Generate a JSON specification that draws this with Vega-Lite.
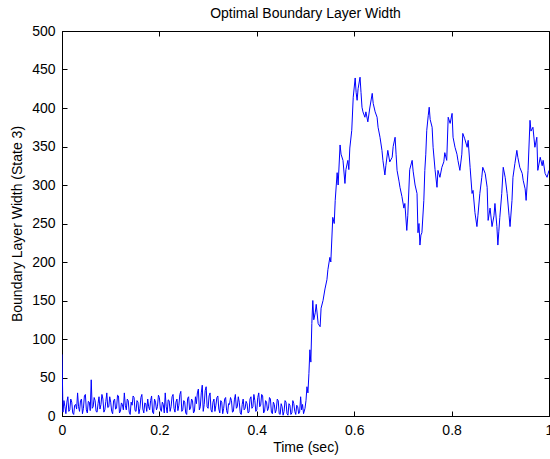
{
  "$schema": "https://vega.github.io/schema/vega-lite/v6.json",
  "width": 487,
  "height": 385,
  "autosize": {"type": "none"},
  "padding": {"left": 62, "top": 31, "right": 1, "bottom": 43},
  "background": "white",
  "title": {"text": "Optimal Boundary Layer Width", "font": "Liberation Sans", "fontSize": 14, "fontWeight": "normal", "color": "black", "offset": 3},
  "config": {
    "view": {"stroke": "black", "strokeWidth": 1},
    "axis": {"grid": false, "domainColor": "black", "tickColor": "black", "labelColor": "black", "labelFont": "Liberation Sans", "labelFontSize": 14, "labelFlush": false, "titleFont": "Liberation Sans", "titleFontSize": 14, "titleFontWeight": "normal", "titleColor": "black"}
  },
  "data": {"values": [
    {"t":0,"w":80},{"t":0.002,"w":5},{"t":0.004,"w":20},{"t":0.006,"w":12},{"t":0.008,"w":3},{"t":0.01,"w":18},{"t":0.012,"w":25},{"t":0.014,"w":6},{"t":0.016,"w":8},{"t":0.018,"w":22},
    {"t":0.02,"w":18},{"t":0.022,"w":4},{"t":0.024,"w":2},{"t":0.026,"w":14},{"t":0.028,"w":15},{"t":0.03,"w":9},{"t":0.032,"w":30},{"t":0.034,"w":12},{"t":0.036,"w":6},{"t":0.038,"w":20},
    {"t":0.04,"w":22},{"t":0.042,"w":3},{"t":0.044,"w":10},{"t":0.046,"w":26},{"t":0.048,"w":28},{"t":0.05,"w":8},{"t":0.052,"w":4},{"t":0.054,"w":19},{"t":0.056,"w":18},{"t":0.058,"w":7},
    {"t":0.06,"w":47},{"t":0.062,"w":10},{"t":0.064,"w":12},{"t":0.066,"w":24},{"t":0.068,"w":20},{"t":0.07,"w":6},{"t":0.072,"w":5},{"t":0.074,"w":16},{"t":0.076,"w":25},{"t":0.078,"w":9},
    {"t":0.08,"w":15},{"t":0.082,"w":28},{"t":0.084,"w":22},{"t":0.086,"w":5},{"t":0.088,"w":8},{"t":0.09,"w":19},{"t":0.092,"w":30},{"t":0.094,"w":11},{"t":0.096,"w":12},{"t":0.098,"w":25},
    {"t":0.1,"w":18},{"t":0.102,"w":6},{"t":0.104,"w":3},{"t":0.106,"w":20},{"t":0.108,"w":22},{"t":0.11,"w":9},{"t":0.112,"w":10},{"t":0.114,"w":27},{"t":0.116,"w":26},{"t":0.118,"w":4},
    {"t":0.12,"w":6},{"t":0.122,"w":17},{"t":0.124,"w":15},{"t":0.126,"w":8},{"t":0.128,"w":30},{"t":0.13,"w":14},{"t":0.132,"w":8},{"t":0.134,"w":22},{"t":0.136,"w":20},{"t":0.138,"w":5},
    {"t":0.14,"w":2},{"t":0.142,"w":18},{"t":0.144,"w":14},{"t":0.146,"w":26},{"t":0.148,"w":24},{"t":0.15,"w":7},{"t":0.152,"w":6},{"t":0.154,"w":20},{"t":0.156,"w":18},{"t":0.158,"w":3},
    {"t":0.16,"w":10},{"t":0.162,"w":24},{"t":0.164,"w":28},{"t":0.166,"w":9},{"t":0.168,"w":4},{"t":0.17,"w":17},{"t":0.172,"w":16},{"t":0.174,"w":6},{"t":0.176,"w":22},{"t":0.178,"w":12},
    {"t":0.18,"w":8},{"t":0.182,"w":20},{"t":0.184,"w":26},{"t":0.186,"w":5},{"t":0.188,"w":3},{"t":0.19,"w":22},{"t":0.192,"w":18},{"t":0.194,"w":8},{"t":0.196,"w":12},{"t":0.198,"w":27},
    {"t":0.2,"w":24},{"t":0.202,"w":9},{"t":0.204,"w":6},{"t":0.206,"w":18},{"t":0.208,"w":15},{"t":0.21,"w":4},{"t":0.212,"w":30},{"t":0.214,"w":12},{"t":0.216,"w":4},{"t":0.218,"w":21},
    {"t":0.22,"w":20},{"t":0.222,"w":6},{"t":0.224,"w":12},{"t":0.226,"w":25},{"t":0.228,"w":28},{"t":0.23,"w":10},{"t":0.232,"w":5},{"t":0.234,"w":18},{"t":0.236,"w":22},{"t":0.238,"w":7},
    {"t":0.24,"w":14},{"t":0.242,"w":28},{"t":0.244,"w":32},{"t":0.246,"w":6},{"t":0.248,"w":8},{"t":0.25,"w":20},{"t":0.252,"w":18},{"t":0.254,"w":4},{"t":0.256,"w":2},{"t":0.258,"w":23},
    {"t":0.26,"w":25},{"t":0.262,"w":8},{"t":0.264,"w":10},{"t":0.266,"w":22},{"t":0.268,"w":20},{"t":0.27,"w":4},{"t":0.272,"w":6},{"t":0.274,"w":25},{"t":0.276,"w":16},{"t":0.278,"w":30},
    {"t":0.28,"w":35},{"t":0.282,"w":8},{"t":0.284,"w":12},{"t":0.286,"w":30},{"t":0.288,"w":40},{"t":0.29,"w":6},{"t":0.292,"w":15},{"t":0.294,"w":33},{"t":0.296,"w":38},{"t":0.298,"w":12},
    {"t":0.3,"w":10},{"t":0.302,"w":26},{"t":0.304,"w":30},{"t":0.306,"w":8},{"t":0.308,"w":5},{"t":0.31,"w":18},{"t":0.312,"w":22},{"t":0.314,"w":6},{"t":0.316,"w":14},{"t":0.318,"w":24},
    {"t":0.32,"w":26},{"t":0.322,"w":9},{"t":0.324,"w":4},{"t":0.326,"w":20},{"t":0.328,"w":18},{"t":0.33,"w":3},{"t":0.332,"w":10},{"t":0.334,"w":22},{"t":0.336,"w":24},{"t":0.338,"w":7},
    {"t":0.34,"w":3},{"t":0.342,"w":16},{"t":0.344,"w":15},{"t":0.346,"w":24},{"t":0.348,"w":20},{"t":0.35,"w":5},{"t":0.352,"w":6},{"t":0.354,"w":21},{"t":0.356,"w":28},{"t":0.358,"w":10},
    {"t":0.36,"w":12},{"t":0.362,"w":25},{"t":0.364,"w":18},{"t":0.366,"w":4},{"t":0.368,"w":2},{"t":0.37,"w":15},{"t":0.372,"w":22},{"t":0.374,"w":8},{"t":0.376,"w":10},{"t":0.378,"w":19},
    {"t":0.38,"w":16},{"t":0.382,"w":4},{"t":0.384,"w":5},{"t":0.386,"w":22},{"t":0.388,"w":25},{"t":0.39,"w":10},{"t":0.392,"w":12},{"t":0.394,"w":28},{"t":0.396,"w":20},{"t":0.398,"w":6},
    {"t":0.4,"w":8},{"t":0.402,"w":24},{"t":0.404,"w":30},{"t":0.406,"w":12},{"t":0.408,"w":14},{"t":0.41,"w":28},{"t":0.412,"w":26},{"t":0.414,"w":4},{"t":0.416,"w":6},{"t":0.418,"w":20},
    {"t":0.42,"w":18},{"t":0.422,"w":7},{"t":0.424,"w":10},{"t":0.426,"w":24},{"t":0.428,"w":22},{"t":0.43,"w":5},{"t":0.432,"w":3},{"t":0.434,"w":18},{"t":0.436,"w":15},{"t":0.438,"w":4},
    {"t":0.44,"w":8},{"t":0.442,"w":22},{"t":0.444,"w":20},{"t":0.446,"w":3},{"t":0.448,"w":2},{"t":0.45,"w":16},{"t":0.452,"w":12},{"t":0.454,"w":1},{"t":0.456,"w":6},{"t":0.458,"w":20},
    {"t":0.46,"w":18},{"t":0.462,"w":3},{"t":0.464,"w":1},{"t":0.466,"w":16},{"t":0.468,"w":14},{"t":0.47,"w":2},{"t":0.472,"w":4},{"t":0.474,"w":20},{"t":0.476,"w":16},{"t":0.478,"w":6},
    {"t":0.48,"w":2},{"t":0.482,"w":14},{"t":0.484,"w":12},{"t":0.486,"w":3},{"t":0.488,"w":5},{"t":0.49,"w":25},{"t":0.492,"w":8},{"t":0.494,"w":15},{"t":0.496,"w":3},
    {"t":0.499,"w":10},{"t":0.501,"w":20},{"t":0.503,"w":38},{"t":0.505,"w":30},{"t":0.507,"w":55},{"t":0.509,"w":86},{"t":0.511,"w":70},{"t":0.513,"w":120},{"t":0.515,"w":150},{"t":0.517,"w":125},{"t":0.52,"w":134},{"t":0.522,"w":145},{"t":0.526,"w":120},{"t":0.53,"w":116},{"t":0.532,"w":140},{"t":0.536,"w":150},{"t":0.54,"w":165},{"t":0.544,"w":177},{"t":0.546,"w":190},{"t":0.55,"w":206},{"t":0.552,"w":200},{"t":0.556,"w":258},{"t":0.559,"w":250},{"t":0.561,"w":280},{"t":0.565,"w":316},{"t":0.567,"w":300},{"t":0.571,"w":352},{"t":0.573,"w":340},{"t":0.577,"w":332},{"t":0.581,"w":302},{"t":0.583,"w":320},{"t":0.587,"w":332},{"t":0.589,"w":320},{"t":0.591,"w":348},{"t":0.595,"w":371},{"t":0.598,"w":414},{"t":0.602,"w":439},{"t":0.604,"w":420},{"t":0.606,"w":410},{"t":0.608,"w":425},{"t":0.612,"w":440},{"t":0.614,"w":420},{"t":0.616,"w":401},{"t":0.618,"w":395},{"t":0.622,"w":388},{"t":0.624,"w":395},{"t":0.628,"w":382},{"t":0.632,"w":400},{"t":0.637,"w":419},{"t":0.639,"w":406},{"t":0.643,"w":395},{"t":0.647,"w":388},{"t":0.649,"w":375},{"t":0.653,"w":362},{"t":0.657,"w":345},{"t":0.659,"w":332},{"t":0.663,"w":313},{"t":0.665,"w":325},{"t":0.669,"w":345},{"t":0.673,"w":330},{"t":0.678,"w":336},{"t":0.68,"w":350},{"t":0.684,"w":362},{"t":0.686,"w":340},{"t":0.688,"w":319},{"t":0.692,"w":305},{"t":0.694,"w":297},{"t":0.698,"w":285},{"t":0.702,"w":270},{"t":0.704,"w":276},{"t":0.708,"w":241},{"t":0.71,"w":260},{"t":0.714,"w":320},{"t":0.719,"w":332},{"t":0.721,"w":318},{"t":0.725,"w":300},{"t":0.729,"w":289},{"t":0.731,"w":238},{"t":0.733,"w":250},{"t":0.735,"w":222},{"t":0.737,"w":235},{"t":0.739,"w":238},{"t":0.743,"w":280},{"t":0.745,"w":319},{"t":0.747,"w":340},{"t":0.749,"w":371},{"t":0.752,"w":390},{"t":0.754,"w":401},{"t":0.756,"w":385},{"t":0.76,"w":375},{"t":0.762,"w":349},{"t":0.766,"w":320},{"t":0.77,"w":297},{"t":0.772,"w":319},{"t":0.776,"w":310},{"t":0.78,"w":323},{"t":0.784,"w":330},{"t":0.786,"w":342},{"t":0.79,"w":332},{"t":0.793,"w":388},{"t":0.797,"w":380},{"t":0.801,"w":393},{"t":0.803,"w":362},{"t":0.807,"w":349},{"t":0.811,"w":340},{"t":0.813,"w":332},{"t":0.817,"w":319},{"t":0.821,"w":340},{"t":0.823,"w":367},{"t":0.827,"w":360},{"t":0.832,"w":349},{"t":0.834,"w":358},{"t":0.838,"w":323},{"t":0.842,"w":289},{"t":0.844,"w":293},{"t":0.848,"w":264},{"t":0.852,"w":246},{"t":0.854,"w":260},{"t":0.858,"w":289},{"t":0.862,"w":310},{"t":0.864,"w":323},{"t":0.869,"w":315},{"t":0.873,"w":297},{"t":0.875,"w":254},{"t":0.879,"w":270},{"t":0.883,"w":246},{"t":0.887,"w":260},{"t":0.889,"w":276},{"t":0.893,"w":246},{"t":0.895,"w":222},{"t":0.897,"w":240},{"t":0.899,"w":258},{"t":0.903,"w":289},{"t":0.906,"w":323},{"t":0.91,"w":310},{"t":0.914,"w":289},{"t":0.918,"w":260},{"t":0.92,"w":246},{"t":0.924,"w":280},{"t":0.926,"w":310},{"t":0.93,"w":328},{"t":0.934,"w":345},{"t":0.936,"w":336},{"t":0.94,"w":323},{"t":0.945,"w":315},{"t":0.947,"w":306},{"t":0.951,"w":295},{"t":0.953,"w":280},{"t":0.957,"w":319},{"t":0.961,"w":384},{"t":0.963,"w":370},{"t":0.967,"w":375},{"t":0.971,"w":349},{"t":0.975,"w":362},{"t":0.977,"w":319},{"t":0.982,"w":336},{"t":0.986,"w":325},{"t":0.988,"w":332},{"t":0.992,"w":315},{"t":0.996,"w":310},{"t":1.0,"w":319}
  ]},
  "layer": [
    {
      "mark": {"type": "line", "color": "#0000FF", "strokeWidth": 1, "clip": true},
      "encoding": {
        "x": {"field": "t", "type": "quantitative", "scale": {"domain": [0, 1], "nice": false, "zero": false},
              "axis": {"orient": "bottom", "title": "Time (sec)", "values": [0, 0.2, 0.4, 0.6, 0.8, 1], "format": "~g", "tickSize": -5, "labelPadding": 12, "titlePadding": 3}},
        "y": {"field": "w", "type": "quantitative", "scale": {"domain": [0, 500], "nice": false},
              "axis": {"orient": "left", "title": "Boundary Layer Width (State 3)", "values": [0,50,100,150,200,250,300,350,400,450,500], "tickSize": -5, "labelPadding": 12, "titlePadding": 7}}
      }
    },
    {
      "mark": {"type": "line", "opacity": 0},
      "encoding": {
        "x": {"field": "t", "type": "quantitative", "axis": {"orient": "top", "offset": -5, "tickSize": 5, "title": null, "labels": false, "domain": false, "values": [0, 0.2, 0.4, 0.6, 0.8, 1]}},
        "y": {"field": "w", "type": "quantitative", "axis": {"orient": "right", "offset": -5, "tickSize": 5, "title": null, "labels": false, "domain": false, "values": [0,50,100,150,200,250,300,350,400,450,500]}}
      }
    }
  ],
  "resolve": {"axis": {"x": "independent", "y": "independent"}}
}
